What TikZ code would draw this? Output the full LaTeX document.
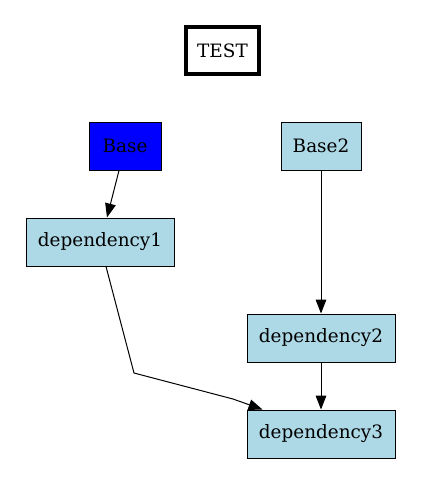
\documentclass[tikz,border=0pt]{standalone}
\usepackage{fontspec}
\setmainfont{DejaVu Serif}
\usetikzlibrary{arrows.meta,calc}
\definecolor{lblue}{HTML}{ADD8E6}
\definecolor{pureblue}{HTML}{0000FF}
\begin{document}
\begin{tikzpicture}[x=1pt,y=-1pt,
  every node/.style={font=\fontsize{18.4}{22}\selectfont},
  gbox/.style={draw=black, line width=1pt, rectangle, inner sep=0pt, minimum height=48pt},
  thickbox/.style={draw=black, line width=3.4pt, rectangle, inner sep=0pt, minimum width=73pt, minimum height=47pt},
  dep/.style={gbox, fill=lblue, minimum width=148pt},
  arr/.style={draw=black, line width=1pt, -{Triangle[length=14pt,width=10.7pt]}}]
\useasboundingbox (0,0) rectangle (421,485);
\node[thickbox] (test) at (222.5,50.5) {TEST};
\node[gbox, fill=pureblue, minimum width=72pt] (base) at (125,146) {Base};
\node[gbox, fill=lblue, minimum width=80pt] (base2) at (321,146) {Base2};
\node[dep] (dep1) at (100,242) {dependency1};
\node[dep] (dep2) at (321,338) {dependency2};
\node[dep] (dep3) at (321,434) {dependency3};
\coordinate (b1) at (134,373);
\coordinate (b2) at (233,399);
\draw[arr] ([xshift=-6pt]base.south) -- ([xshift=7pt]dep1.north);
\draw[arr] (base2) -- (dep2);
\draw[arr] (dep2) -- (dep3);
\draw[arr] ([xshift=6pt]dep1.south) -- (b1) -- (b2) -- ([xshift=16pt]dep3.north west);
\end{tikzpicture}
\end{document}
